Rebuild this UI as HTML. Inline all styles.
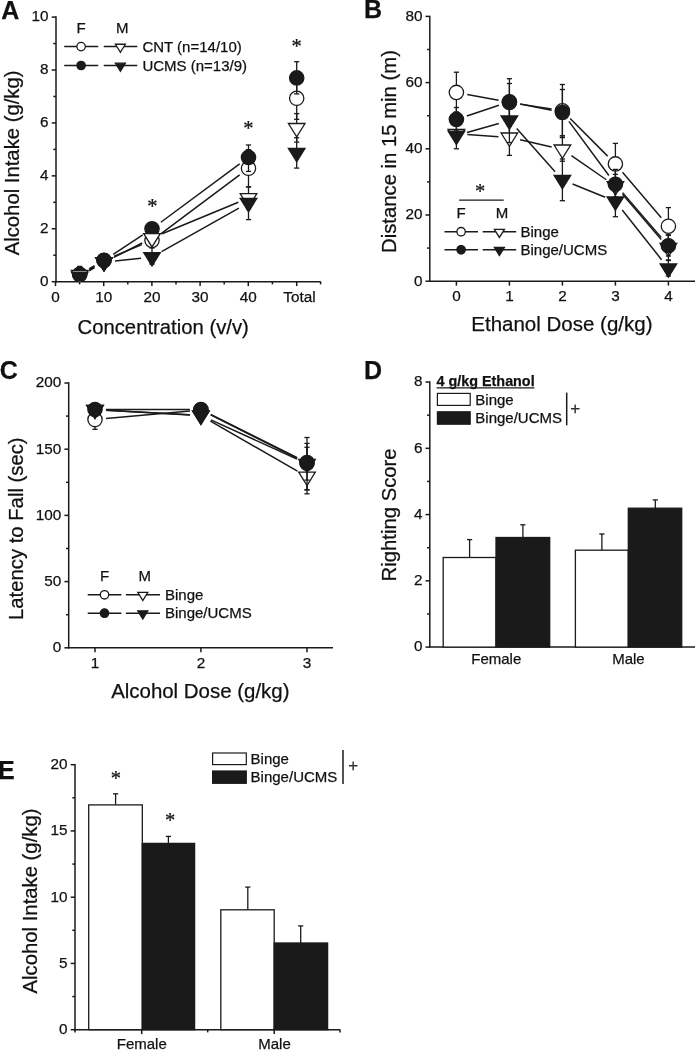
<!DOCTYPE html>
<html><head><meta charset="utf-8"><title>Figure</title>
<style>
html,body{margin:0;padding:0;background:#fff;}
body{width:695px;height:1050px;overflow:hidden;}
svg{display:block;font-family:"Liberation Sans",Arial,Helvetica,sans-serif;fill:#111;}
text{stroke:#111;stroke-width:0.25px;}
</style></head><body>
<svg width="695" height="1050" viewBox="0 0 695 1050">
<rect width="695" height="1050" fill="#fff"/>
<text x="1.2" y="18.6" font-size="25" text-anchor="start" font-weight="bold" >A</text>
<line x1="56" y1="16.35" x2="56" y2="282.45" stroke="#1a1a1a" stroke-width="1.5" />
<line x1="51.7" y1="281.7" x2="56" y2="281.7" stroke="#1a1a1a" stroke-width="1.5" />
<text x="48.6" y="286" font-size="15.3" text-anchor="end" >0</text>
<line x1="51.7" y1="228.78" x2="56" y2="228.78" stroke="#1a1a1a" stroke-width="1.5" />
<text x="48.6" y="233.08" font-size="15.3" text-anchor="end" >2</text>
<line x1="51.7" y1="175.86" x2="56" y2="175.86" stroke="#1a1a1a" stroke-width="1.5" />
<text x="48.6" y="180.16" font-size="15.3" text-anchor="end" >4</text>
<line x1="51.7" y1="122.94" x2="56" y2="122.94" stroke="#1a1a1a" stroke-width="1.5" />
<text x="48.6" y="127.24" font-size="15.3" text-anchor="end" >6</text>
<line x1="51.7" y1="70.02" x2="56" y2="70.02" stroke="#1a1a1a" stroke-width="1.5" />
<text x="48.6" y="74.32" font-size="15.3" text-anchor="end" >8</text>
<line x1="51.7" y1="17.1" x2="56" y2="17.1" stroke="#1a1a1a" stroke-width="1.5" />
<text x="48.6" y="21.4" font-size="15.3" text-anchor="end" >10</text>
<line x1="53.3" y1="255.24" x2="56" y2="255.24" stroke="#1a1a1a" stroke-width="1.5" />
<line x1="53.3" y1="202.32" x2="56" y2="202.32" stroke="#1a1a1a" stroke-width="1.5" />
<line x1="53.3" y1="149.4" x2="56" y2="149.4" stroke="#1a1a1a" stroke-width="1.5" />
<line x1="53.3" y1="96.48" x2="56" y2="96.48" stroke="#1a1a1a" stroke-width="1.5" />
<line x1="53.3" y1="43.56" x2="56" y2="43.56" stroke="#1a1a1a" stroke-width="1.5" />
<line x1="55.25" y1="281.7" x2="320.8" y2="281.7" stroke="#1a1a1a" stroke-width="1.5" />
<line x1="55.5" y1="281.7" x2="55.5" y2="286.1" stroke="#1a1a1a" stroke-width="1.5" />
<text x="55.5" y="301.5" font-size="15.3" text-anchor="middle" >0</text>
<line x1="103.7" y1="281.7" x2="103.7" y2="286.1" stroke="#1a1a1a" stroke-width="1.5" />
<text x="103.7" y="301.5" font-size="15.3" text-anchor="middle" >10</text>
<line x1="151.9" y1="281.7" x2="151.9" y2="286.1" stroke="#1a1a1a" stroke-width="1.5" />
<text x="151.9" y="301.5" font-size="15.3" text-anchor="middle" >20</text>
<line x1="200.1" y1="281.7" x2="200.1" y2="286.1" stroke="#1a1a1a" stroke-width="1.5" />
<text x="200.1" y="301.5" font-size="15.3" text-anchor="middle" >30</text>
<line x1="248.3" y1="281.7" x2="248.3" y2="286.1" stroke="#1a1a1a" stroke-width="1.5" />
<text x="248.3" y="301.5" font-size="15.3" text-anchor="middle" >40</text>
<line x1="296.7" y1="281.7" x2="296.7" y2="286.1" stroke="#1a1a1a" stroke-width="1.5" />
<text x="299.4" y="301.5" font-size="15.3" text-anchor="middle" >Total</text>
<line x1="79.6" y1="281.7" x2="79.6" y2="284.4" stroke="#1a1a1a" stroke-width="1.5" />
<line x1="127.8" y1="281.7" x2="127.8" y2="284.4" stroke="#1a1a1a" stroke-width="1.5" />
<line x1="176" y1="281.7" x2="176" y2="284.4" stroke="#1a1a1a" stroke-width="1.5" />
<line x1="224.2" y1="281.7" x2="224.2" y2="284.4" stroke="#1a1a1a" stroke-width="1.5" />
<line x1="272.4" y1="281.7" x2="272.4" y2="284.4" stroke="#1a1a1a" stroke-width="1.5" />
<line x1="320.6" y1="281.7" x2="320.6" y2="284.4" stroke="#1a1a1a" stroke-width="1.5" />
<text transform="translate(18.7 162.9) rotate(-90)" font-size="20.3" text-anchor="middle">Alcohol Intake (g/kg)</text>
<text x="163.2" y="333.8" font-size="20.3" text-anchor="middle" >Concentration (v/v)</text>
<clipPath id="ca"><rect x="56" y="0" width="300" height="281.2"/></clipPath><g clip-path="url(#ca)">
<line x1="89.25" y1="268.94" x2="94.45" y2="265.96" stroke="#1a1a1a" stroke-width="1.5" />
<line x1="114.15" y1="256.25" x2="141.85" y2="244.65" stroke="#1a1a1a" stroke-width="1.5" />
<line x1="160.81" y1="233.82" x2="239.69" y2="174.88" stroke="#1a1a1a" stroke-width="1.5" />
<line x1="79.7" y1="266.3" x2="79.7" y2="274" stroke="#1a1a1a" stroke-width="1.3" />
<line x1="77.1" y1="266.3" x2="82.3" y2="266.3" stroke="#1a1a1a" stroke-width="1.3" />
<line x1="77.1" y1="274" x2="82.3" y2="274" stroke="#1a1a1a" stroke-width="1.3" />
<line x1="248.5" y1="149.7" x2="248.5" y2="186.9" stroke="#1a1a1a" stroke-width="1.3" />
<line x1="245.9" y1="149.7" x2="251.1" y2="149.7" stroke="#1a1a1a" stroke-width="1.3" />
<line x1="245.9" y1="186.9" x2="251.1" y2="186.9" stroke="#1a1a1a" stroke-width="1.3" />
<line x1="296.7" y1="77.3" x2="296.7" y2="119.3" stroke="#1a1a1a" stroke-width="1.3" />
<line x1="294.1" y1="77.3" x2="299.3" y2="77.3" stroke="#1a1a1a" stroke-width="1.3" />
<line x1="294.1" y1="119.3" x2="299.3" y2="119.3" stroke="#1a1a1a" stroke-width="1.3" />
<circle cx="79.7" cy="274.4" r="7.15" fill="#fff" stroke="#1a1a1a" stroke-width="1.3"/>
<circle cx="104" cy="260.5" r="7.15" fill="#fff" stroke="#1a1a1a" stroke-width="1.3"/>
<circle cx="152" cy="240.4" r="7.15" fill="#fff" stroke="#1a1a1a" stroke-width="1.3"/>
<circle cx="248.5" cy="168.3" r="7.15" fill="#fff" stroke="#1a1a1a" stroke-width="1.3"/>
<circle cx="296.7" cy="98.3" r="7.15" fill="#fff" stroke="#1a1a1a" stroke-width="1.3"/>
<line x1="89.18" y1="269.02" x2="94.52" y2="265.88" stroke="#1a1a1a" stroke-width="1.5" />
<line x1="113.2" y1="254.26" x2="142.8" y2="234.84" stroke="#1a1a1a" stroke-width="1.5" />
<line x1="160.84" y1="222.26" x2="239.66" y2="163.94" stroke="#1a1a1a" stroke-width="1.5" />
<line x1="248.5" y1="145" x2="248.5" y2="171.4" stroke="#1a1a1a" stroke-width="1.3" />
<line x1="245.9" y1="145" x2="251.1" y2="145" stroke="#1a1a1a" stroke-width="1.3" />
<line x1="245.9" y1="171.4" x2="251.1" y2="171.4" stroke="#1a1a1a" stroke-width="1.3" />
<line x1="296.7" y1="61.7" x2="296.7" y2="93.9" stroke="#1a1a1a" stroke-width="1.3" />
<line x1="294.1" y1="61.7" x2="299.3" y2="61.7" stroke="#1a1a1a" stroke-width="1.3" />
<line x1="294.1" y1="93.9" x2="299.3" y2="93.9" stroke="#1a1a1a" stroke-width="1.3" />
<circle cx="79.7" cy="274.6" r="7.15" fill="#1a1a1a" stroke="#1a1a1a" stroke-width="1.3"/>
<circle cx="104" cy="260.3" r="7.15" fill="#1a1a1a" stroke="#1a1a1a" stroke-width="1.3"/>
<circle cx="152" cy="228.8" r="7.15" fill="#1a1a1a" stroke="#1a1a1a" stroke-width="1.3"/>
<circle cx="248.5" cy="157.4" r="7.15" fill="#1a1a1a" stroke="#1a1a1a" stroke-width="1.3"/>
<circle cx="296.7" cy="77.9" r="7.15" fill="#1a1a1a" stroke="#1a1a1a" stroke-width="1.3"/>
<line x1="89.51" y1="269.73" x2="94.19" y2="267.37" stroke="#1a1a1a" stroke-width="1.5" />
<line x1="113.81" y1="257.42" x2="142.19" y2="242.98" stroke="#1a1a1a" stroke-width="1.5" />
<line x1="162.17" y1="233.8" x2="238.33" y2="202.3" stroke="#1a1a1a" stroke-width="1.5" />
<line x1="248.5" y1="186.9" x2="248.5" y2="209" stroke="#1a1a1a" stroke-width="1.3" />
<line x1="245.9" y1="186.9" x2="251.1" y2="186.9" stroke="#1a1a1a" stroke-width="1.3" />
<line x1="245.9" y1="209" x2="251.1" y2="209" stroke="#1a1a1a" stroke-width="1.3" />
<line x1="296.7" y1="113.6" x2="296.7" y2="142.1" stroke="#1a1a1a" stroke-width="1.3" />
<line x1="294.1" y1="113.6" x2="299.3" y2="113.6" stroke="#1a1a1a" stroke-width="1.3" />
<line x1="294.1" y1="142.1" x2="299.3" y2="142.1" stroke="#1a1a1a" stroke-width="1.3" />
<path d="M71.4 270.3H88L79.7 283.6Z" fill="#fff" stroke="#1a1a1a" stroke-width="1.3" stroke-linejoin="miter"/>
<path d="M95.7 258H112.3L104 271.3Z" fill="#fff" stroke="#1a1a1a" stroke-width="1.3" stroke-linejoin="miter"/>
<path d="M143.7 233.6H160.3L152 246.9Z" fill="#fff" stroke="#1a1a1a" stroke-width="1.3" stroke-linejoin="miter"/>
<path d="M240.2 193.7H256.8L248.5 207Z" fill="#fff" stroke="#1a1a1a" stroke-width="1.3" stroke-linejoin="miter"/>
<path d="M288.4 123.5H305L296.7 136.8Z" fill="#fff" stroke="#1a1a1a" stroke-width="1.3" stroke-linejoin="miter"/>
<line x1="89.16" y1="270.89" x2="94.54" y2="267.71" stroke="#1a1a1a" stroke-width="1.5" />
<line x1="114.94" y1="260.94" x2="141.06" y2="258.16" stroke="#1a1a1a" stroke-width="1.5" />
<line x1="161.59" y1="251.61" x2="238.91" y2="208.19" stroke="#1a1a1a" stroke-width="1.5" />
<line x1="152" y1="248" x2="152" y2="264" stroke="#1a1a1a" stroke-width="1.3" />
<line x1="149.4" y1="248" x2="154.6" y2="248" stroke="#1a1a1a" stroke-width="1.3" />
<line x1="149.4" y1="264" x2="154.6" y2="264" stroke="#1a1a1a" stroke-width="1.3" />
<line x1="248.5" y1="200" x2="248.5" y2="219.6" stroke="#1a1a1a" stroke-width="1.3" />
<line x1="245.9" y1="200" x2="251.1" y2="200" stroke="#1a1a1a" stroke-width="1.3" />
<line x1="245.9" y1="219.6" x2="251.1" y2="219.6" stroke="#1a1a1a" stroke-width="1.3" />
<line x1="296.7" y1="137.7" x2="296.7" y2="168.1" stroke="#1a1a1a" stroke-width="1.3" />
<line x1="294.1" y1="137.7" x2="299.3" y2="137.7" stroke="#1a1a1a" stroke-width="1.3" />
<line x1="294.1" y1="168.1" x2="299.3" y2="168.1" stroke="#1a1a1a" stroke-width="1.3" />
<path d="M71.4 272.1H88L79.7 285.4Z" fill="#1a1a1a" stroke="#1a1a1a" stroke-width="1.3" stroke-linejoin="miter"/>
<path d="M95.7 257.7H112.3L104 271Z" fill="#1a1a1a" stroke="#1a1a1a" stroke-width="1.3" stroke-linejoin="miter"/>
<path d="M143.7 252.6H160.3L152 265.9Z" fill="#1a1a1a" stroke="#1a1a1a" stroke-width="1.3" stroke-linejoin="miter"/>
<path d="M240.2 198.4H256.8L248.5 211.7Z" fill="#1a1a1a" stroke="#1a1a1a" stroke-width="1.3" stroke-linejoin="miter"/>
<path d="M288.4 148.5H305L296.7 161.8Z" fill="#1a1a1a" stroke="#1a1a1a" stroke-width="1.3" stroke-linejoin="miter"/>
</g>
<text x="152.4" y="213.22" font-size="20.5" text-anchor="middle" font-family="Liberation Serif, serif" stroke="#111" stroke-width="0.35">*</text>
<text x="248.3" y="135.02" font-size="20.5" text-anchor="middle" font-family="Liberation Serif, serif" stroke="#111" stroke-width="0.35">*</text>
<text x="296.7" y="52.72" font-size="20.5" text-anchor="middle" font-family="Liberation Serif, serif" stroke="#111" stroke-width="0.35">*</text>
<text x="81.1" y="32.7" font-size="15" text-anchor="middle" >F</text>
<text x="122.3" y="32.7" font-size="15" text-anchor="middle" >M</text>
<line x1="64.2" y1="46.6" x2="98.2" y2="46.6" stroke="#1a1a1a" stroke-width="1.5" />
<circle cx="81.1" cy="46.6" r="4.2" fill="#fff" stroke="#1a1a1a" stroke-width="1.3"/>
<line x1="103.8" y1="46.6" x2="137.3" y2="46.6" stroke="#1a1a1a" stroke-width="1.5" />
<path d="M115.4 44.23H125.4L120.4 52.33Z" fill="#fff" stroke="#1a1a1a" stroke-width="1.3" stroke-linejoin="miter"/>
<line x1="64.2" y1="65.5" x2="98.2" y2="65.5" stroke="#1a1a1a" stroke-width="1.5" />
<circle cx="81.1" cy="65.5" r="4.2" fill="#1a1a1a" stroke="#1a1a1a" stroke-width="1.3"/>
<line x1="103.8" y1="65.5" x2="137.3" y2="65.5" stroke="#1a1a1a" stroke-width="1.5" />
<path d="M115.4 63.13H125.4L120.4 71.23Z" fill="#1a1a1a" stroke="#1a1a1a" stroke-width="1.3" stroke-linejoin="miter"/>
<text x="142.4" y="52.2" font-size="15" text-anchor="start" >CNT (n=14/10)</text>
<text x="142.4" y="71" font-size="15" text-anchor="start" >UCMS (n=13/9)</text>
<text x="364" y="17.8" font-size="25" text-anchor="start" font-weight="bold" >B</text>
<line x1="429.8" y1="15.65" x2="429.8" y2="281.95" stroke="#1a1a1a" stroke-width="1.5" />
<line x1="425.5" y1="281.2" x2="429.8" y2="281.2" stroke="#1a1a1a" stroke-width="1.5" />
<text x="422.4" y="285.5" font-size="15.3" text-anchor="end" >0</text>
<line x1="425.5" y1="215" x2="429.8" y2="215" stroke="#1a1a1a" stroke-width="1.5" />
<text x="422.4" y="219.3" font-size="15.3" text-anchor="end" >20</text>
<line x1="425.5" y1="148.8" x2="429.8" y2="148.8" stroke="#1a1a1a" stroke-width="1.5" />
<text x="422.4" y="153.1" font-size="15.3" text-anchor="end" >40</text>
<line x1="425.5" y1="82.6" x2="429.8" y2="82.6" stroke="#1a1a1a" stroke-width="1.5" />
<text x="422.4" y="86.9" font-size="15.3" text-anchor="end" >60</text>
<line x1="425.5" y1="16.4" x2="429.8" y2="16.4" stroke="#1a1a1a" stroke-width="1.5" />
<text x="422.4" y="20.7" font-size="15.3" text-anchor="end" >80</text>
<line x1="427.1" y1="248.1" x2="429.8" y2="248.1" stroke="#1a1a1a" stroke-width="1.5" />
<line x1="427.1" y1="181.9" x2="429.8" y2="181.9" stroke="#1a1a1a" stroke-width="1.5" />
<line x1="427.1" y1="115.7" x2="429.8" y2="115.7" stroke="#1a1a1a" stroke-width="1.5" />
<line x1="427.1" y1="49.5" x2="429.8" y2="49.5" stroke="#1a1a1a" stroke-width="1.5" />
<line x1="429.05" y1="281.2" x2="695" y2="281.2" stroke="#1a1a1a" stroke-width="1.5" />
<line x1="456.4" y1="281.2" x2="456.4" y2="285.6" stroke="#1a1a1a" stroke-width="1.5" />
<text x="456.4" y="300.8" font-size="15.3" text-anchor="middle" >0</text>
<line x1="509.4" y1="281.2" x2="509.4" y2="285.6" stroke="#1a1a1a" stroke-width="1.5" />
<text x="509.4" y="300.8" font-size="15.3" text-anchor="middle" >1</text>
<line x1="562.4" y1="281.2" x2="562.4" y2="285.6" stroke="#1a1a1a" stroke-width="1.5" />
<text x="562.4" y="300.8" font-size="15.3" text-anchor="middle" >2</text>
<line x1="615.4" y1="281.2" x2="615.4" y2="285.6" stroke="#1a1a1a" stroke-width="1.5" />
<text x="615.4" y="300.8" font-size="15.3" text-anchor="middle" >3</text>
<line x1="668.4" y1="281.2" x2="668.4" y2="285.6" stroke="#1a1a1a" stroke-width="1.5" />
<text x="668.4" y="300.8" font-size="15.3" text-anchor="middle" >4</text>
<text transform="translate(395.7 151.5) rotate(-90)" font-size="20.3" text-anchor="middle">Distance in 15 min (m)</text>
<text x="561.9" y="330.6" font-size="20.5" text-anchor="middle" >Ethanol Dose (g/kg)</text>
<line x1="467.21" y1="94.44" x2="498.59" y2="100.36" stroke="#1a1a1a" stroke-width="1.5" />
<line x1="520.26" y1="104.12" x2="551.54" y2="109.08" stroke="#1a1a1a" stroke-width="1.5" />
<line x1="570.17" y1="118.59" x2="607.63" y2="156.11" stroke="#1a1a1a" stroke-width="1.5" />
<line x1="622.53" y1="172.28" x2="661.27" y2="217.82" stroke="#1a1a1a" stroke-width="1.5" />
<line x1="456.4" y1="72.2" x2="456.4" y2="112" stroke="#1a1a1a" stroke-width="1.3" />
<line x1="453.8" y1="72.2" x2="459" y2="72.2" stroke="#1a1a1a" stroke-width="1.3" />
<line x1="453.8" y1="112" x2="459" y2="112" stroke="#1a1a1a" stroke-width="1.3" />
<line x1="509.4" y1="78.7" x2="509.4" y2="126" stroke="#1a1a1a" stroke-width="1.3" />
<line x1="506.8" y1="78.7" x2="512" y2="78.7" stroke="#1a1a1a" stroke-width="1.3" />
<line x1="506.8" y1="126" x2="512" y2="126" stroke="#1a1a1a" stroke-width="1.3" />
<line x1="562.4" y1="84.5" x2="562.4" y2="137.1" stroke="#1a1a1a" stroke-width="1.3" />
<line x1="559.8" y1="84.5" x2="565" y2="84.5" stroke="#1a1a1a" stroke-width="1.3" />
<line x1="559.8" y1="137.1" x2="565" y2="137.1" stroke="#1a1a1a" stroke-width="1.3" />
<line x1="615.4" y1="143.4" x2="615.4" y2="184" stroke="#1a1a1a" stroke-width="1.3" />
<line x1="612.8" y1="143.4" x2="618" y2="143.4" stroke="#1a1a1a" stroke-width="1.3" />
<line x1="612.8" y1="184" x2="618" y2="184" stroke="#1a1a1a" stroke-width="1.3" />
<line x1="668.4" y1="207.6" x2="668.4" y2="244" stroke="#1a1a1a" stroke-width="1.3" />
<line x1="665.8" y1="207.6" x2="671" y2="207.6" stroke="#1a1a1a" stroke-width="1.3" />
<line x1="665.8" y1="244" x2="671" y2="244" stroke="#1a1a1a" stroke-width="1.3" />
<circle cx="456.4" cy="92.4" r="7.15" fill="#fff" stroke="#1a1a1a" stroke-width="1.3"/>
<circle cx="509.4" cy="102.4" r="7.15" fill="#fff" stroke="#1a1a1a" stroke-width="1.3"/>
<circle cx="562.4" cy="110.8" r="7.15" fill="#fff" stroke="#1a1a1a" stroke-width="1.3"/>
<circle cx="615.4" cy="163.9" r="7.15" fill="#fff" stroke="#1a1a1a" stroke-width="1.3"/>
<circle cx="668.4" cy="226.2" r="7.15" fill="#fff" stroke="#1a1a1a" stroke-width="1.3"/>
<line x1="467.37" y1="134.55" x2="498.43" y2="136.65" stroke="#1a1a1a" stroke-width="1.5" />
<line x1="520.13" y1="139.83" x2="551.67" y2="146.97" stroke="#1a1a1a" stroke-width="1.5" />
<line x1="571.45" y1="155.65" x2="606.35" y2="179.75" stroke="#1a1a1a" stroke-width="1.5" />
<line x1="622.55" y1="194.36" x2="661.25" y2="239.54" stroke="#1a1a1a" stroke-width="1.5" />
<line x1="509.4" y1="125" x2="509.4" y2="155.4" stroke="#1a1a1a" stroke-width="1.3" />
<line x1="506.8" y1="125" x2="512" y2="125" stroke="#1a1a1a" stroke-width="1.3" />
<line x1="506.8" y1="155.4" x2="512" y2="155.4" stroke="#1a1a1a" stroke-width="1.3" />
<line x1="562.4" y1="137.6" x2="562.4" y2="161.2" stroke="#1a1a1a" stroke-width="1.3" />
<line x1="559.8" y1="137.6" x2="565" y2="137.6" stroke="#1a1a1a" stroke-width="1.3" />
<line x1="559.8" y1="161.2" x2="565" y2="161.2" stroke="#1a1a1a" stroke-width="1.3" />
<line x1="615.4" y1="174.3" x2="615.4" y2="197" stroke="#1a1a1a" stroke-width="1.3" />
<line x1="612.8" y1="174.3" x2="618" y2="174.3" stroke="#1a1a1a" stroke-width="1.3" />
<line x1="612.8" y1="197" x2="618" y2="197" stroke="#1a1a1a" stroke-width="1.3" />
<line x1="668.4" y1="235.3" x2="668.4" y2="260.5" stroke="#1a1a1a" stroke-width="1.3" />
<line x1="665.8" y1="235.3" x2="671" y2="235.3" stroke="#1a1a1a" stroke-width="1.3" />
<line x1="665.8" y1="260.5" x2="671" y2="260.5" stroke="#1a1a1a" stroke-width="1.3" />
<path d="M448.1 129.4H464.7L456.4 142.7Z" fill="#fff" stroke="#1a1a1a" stroke-width="1.3" stroke-linejoin="miter"/>
<path d="M501.1 133H517.7L509.4 146.3Z" fill="#fff" stroke="#1a1a1a" stroke-width="1.3" stroke-linejoin="miter"/>
<path d="M554.1 145H570.7L562.4 158.3Z" fill="#fff" stroke="#1a1a1a" stroke-width="1.3" stroke-linejoin="miter"/>
<path d="M607.1 181.6H623.7L615.4 194.9Z" fill="#fff" stroke="#1a1a1a" stroke-width="1.3" stroke-linejoin="miter"/>
<path d="M660.1 243.5H676.7L668.4 256.8Z" fill="#fff" stroke="#1a1a1a" stroke-width="1.3" stroke-linejoin="miter"/>
<line x1="466.83" y1="115.92" x2="498.97" y2="105.18" stroke="#1a1a1a" stroke-width="1.5" />
<line x1="520.18" y1="103.9" x2="551.62" y2="110.3" stroke="#1a1a1a" stroke-width="1.5" />
<line x1="568.93" y1="121.35" x2="608.87" y2="175.45" stroke="#1a1a1a" stroke-width="1.5" />
<line x1="622.59" y1="192.63" x2="661.21" y2="237.37" stroke="#1a1a1a" stroke-width="1.5" />
<line x1="456.4" y1="107.5" x2="456.4" y2="131" stroke="#1a1a1a" stroke-width="1.3" />
<line x1="453.8" y1="107.5" x2="459" y2="107.5" stroke="#1a1a1a" stroke-width="1.3" />
<line x1="453.8" y1="131" x2="459" y2="131" stroke="#1a1a1a" stroke-width="1.3" />
<line x1="509.4" y1="83.5" x2="509.4" y2="120" stroke="#1a1a1a" stroke-width="1.3" />
<line x1="506.8" y1="83.5" x2="512" y2="83.5" stroke="#1a1a1a" stroke-width="1.3" />
<line x1="506.8" y1="120" x2="512" y2="120" stroke="#1a1a1a" stroke-width="1.3" />
<line x1="562.4" y1="89.5" x2="562.4" y2="135.7" stroke="#1a1a1a" stroke-width="1.3" />
<line x1="559.8" y1="89.5" x2="565" y2="89.5" stroke="#1a1a1a" stroke-width="1.3" />
<line x1="559.8" y1="135.7" x2="565" y2="135.7" stroke="#1a1a1a" stroke-width="1.3" />
<line x1="615.4" y1="169.4" x2="615.4" y2="199" stroke="#1a1a1a" stroke-width="1.3" />
<line x1="612.8" y1="169.4" x2="618" y2="169.4" stroke="#1a1a1a" stroke-width="1.3" />
<line x1="612.8" y1="199" x2="618" y2="199" stroke="#1a1a1a" stroke-width="1.3" />
<line x1="668.4" y1="234.8" x2="668.4" y2="256" stroke="#1a1a1a" stroke-width="1.3" />
<line x1="665.8" y1="234.8" x2="671" y2="234.8" stroke="#1a1a1a" stroke-width="1.3" />
<line x1="665.8" y1="256" x2="671" y2="256" stroke="#1a1a1a" stroke-width="1.3" />
<circle cx="456.4" cy="119.4" r="7.15" fill="#1a1a1a" stroke="#1a1a1a" stroke-width="1.3"/>
<circle cx="509.4" cy="101.7" r="7.15" fill="#1a1a1a" stroke="#1a1a1a" stroke-width="1.3"/>
<circle cx="562.4" cy="112.5" r="7.15" fill="#1a1a1a" stroke="#1a1a1a" stroke-width="1.3"/>
<circle cx="615.4" cy="184.3" r="7.15" fill="#1a1a1a" stroke="#1a1a1a" stroke-width="1.3"/>
<circle cx="668.4" cy="245.7" r="7.15" fill="#1a1a1a" stroke="#1a1a1a" stroke-width="1.3"/>
<line x1="466.98" y1="132.49" x2="498.82" y2="123.41" stroke="#1a1a1a" stroke-width="1.5" />
<line x1="516.72" y1="128.61" x2="555.08" y2="171.69" stroke="#1a1a1a" stroke-width="1.5" />
<line x1="572.59" y1="184.03" x2="605.21" y2="197.27" stroke="#1a1a1a" stroke-width="1.5" />
<line x1="622.23" y1="210.02" x2="661.57" y2="259.68" stroke="#1a1a1a" stroke-width="1.5" />
<line x1="456.4" y1="125" x2="456.4" y2="148.8" stroke="#1a1a1a" stroke-width="1.3" />
<line x1="453.8" y1="125" x2="459" y2="125" stroke="#1a1a1a" stroke-width="1.3" />
<line x1="453.8" y1="148.8" x2="459" y2="148.8" stroke="#1a1a1a" stroke-width="1.3" />
<line x1="509.4" y1="100" x2="509.4" y2="142.6" stroke="#1a1a1a" stroke-width="1.3" />
<line x1="506.8" y1="100" x2="512" y2="100" stroke="#1a1a1a" stroke-width="1.3" />
<line x1="506.8" y1="142.6" x2="512" y2="142.6" stroke="#1a1a1a" stroke-width="1.3" />
<line x1="562.4" y1="159" x2="562.4" y2="200.7" stroke="#1a1a1a" stroke-width="1.3" />
<line x1="559.8" y1="159" x2="565" y2="159" stroke="#1a1a1a" stroke-width="1.3" />
<line x1="559.8" y1="200.7" x2="565" y2="200.7" stroke="#1a1a1a" stroke-width="1.3" />
<line x1="615.4" y1="186" x2="615.4" y2="216.7" stroke="#1a1a1a" stroke-width="1.3" />
<line x1="612.8" y1="186" x2="618" y2="186" stroke="#1a1a1a" stroke-width="1.3" />
<line x1="612.8" y1="216.7" x2="618" y2="216.7" stroke="#1a1a1a" stroke-width="1.3" />
<line x1="668.4" y1="260" x2="668.4" y2="276" stroke="#1a1a1a" stroke-width="1.3" />
<line x1="665.8" y1="260" x2="671" y2="260" stroke="#1a1a1a" stroke-width="1.3" />
<line x1="665.8" y1="276" x2="671" y2="276" stroke="#1a1a1a" stroke-width="1.3" />
<path d="M448.1 131.1H464.7L456.4 144.4Z" fill="#1a1a1a" stroke="#1a1a1a" stroke-width="1.3" stroke-linejoin="miter"/>
<path d="M501.1 116H517.7L509.4 129.3Z" fill="#1a1a1a" stroke="#1a1a1a" stroke-width="1.3" stroke-linejoin="miter"/>
<path d="M554.1 175.5H570.7L562.4 188.8Z" fill="#1a1a1a" stroke="#1a1a1a" stroke-width="1.3" stroke-linejoin="miter"/>
<path d="M607.1 197H623.7L615.4 210.3Z" fill="#1a1a1a" stroke="#1a1a1a" stroke-width="1.3" stroke-linejoin="miter"/>
<path d="M660.1 263.9H676.7L668.4 277.2Z" fill="#1a1a1a" stroke="#1a1a1a" stroke-width="1.3" stroke-linejoin="miter"/>
<text x="480.2" y="198.02" font-size="20.5" text-anchor="middle" font-family="Liberation Serif, serif" stroke="#111" stroke-width="0.35">*</text>
<line x1="459.1" y1="200.2" x2="503.7" y2="200.2" stroke="#1a1a1a" stroke-width="1.3" />
<text x="461.1" y="217.8" font-size="15" text-anchor="middle" >F</text>
<text x="501.9" y="217.8" font-size="15" text-anchor="middle" >M</text>
<line x1="444.5" y1="231.7" x2="478" y2="231.7" stroke="#1a1a1a" stroke-width="1.5" />
<circle cx="461.1" cy="231.7" r="4.2" fill="#fff" stroke="#1a1a1a" stroke-width="1.3"/>
<line x1="482.7" y1="231.7" x2="516.2" y2="231.7" stroke="#1a1a1a" stroke-width="1.5" />
<path d="M494.4 229.33H504.4L499.4 237.43Z" fill="#fff" stroke="#1a1a1a" stroke-width="1.3" stroke-linejoin="miter"/>
<line x1="444.5" y1="249.8" x2="478" y2="249.8" stroke="#1a1a1a" stroke-width="1.5" />
<circle cx="461.1" cy="249.8" r="4.2" fill="#1a1a1a" stroke="#1a1a1a" stroke-width="1.3"/>
<line x1="482.7" y1="249.8" x2="516.2" y2="249.8" stroke="#1a1a1a" stroke-width="1.5" />
<path d="M494.4 247.43H504.4L499.4 255.53Z" fill="#1a1a1a" stroke="#1a1a1a" stroke-width="1.3" stroke-linejoin="miter"/>
<text x="520.5" y="236.6" font-size="15" text-anchor="start" >Binge</text>
<text x="520.5" y="254.9" font-size="15" text-anchor="start" >Binge/UCMS</text>
<text x="-0.3" y="378.8" font-size="25" text-anchor="start" font-weight="bold" >C</text>
<line x1="68.7" y1="382.25" x2="68.7" y2="648.55" stroke="#1a1a1a" stroke-width="1.5" />
<line x1="64.4" y1="647.8" x2="68.7" y2="647.8" stroke="#1a1a1a" stroke-width="1.5" />
<text x="61.3" y="652.1" font-size="15.3" text-anchor="end" >0</text>
<line x1="64.4" y1="581.6" x2="68.7" y2="581.6" stroke="#1a1a1a" stroke-width="1.5" />
<text x="61.3" y="585.9" font-size="15.3" text-anchor="end" >50</text>
<line x1="64.4" y1="515.4" x2="68.7" y2="515.4" stroke="#1a1a1a" stroke-width="1.5" />
<text x="61.3" y="519.7" font-size="15.3" text-anchor="end" >100</text>
<line x1="64.4" y1="449.2" x2="68.7" y2="449.2" stroke="#1a1a1a" stroke-width="1.5" />
<text x="61.3" y="453.5" font-size="15.3" text-anchor="end" >150</text>
<line x1="64.4" y1="383" x2="68.7" y2="383" stroke="#1a1a1a" stroke-width="1.5" />
<text x="61.3" y="387.3" font-size="15.3" text-anchor="end" >200</text>
<line x1="66" y1="614.7" x2="68.7" y2="614.7" stroke="#1a1a1a" stroke-width="1.5" />
<line x1="66" y1="548.5" x2="68.7" y2="548.5" stroke="#1a1a1a" stroke-width="1.5" />
<line x1="66" y1="482.3" x2="68.7" y2="482.3" stroke="#1a1a1a" stroke-width="1.5" />
<line x1="66" y1="416.1" x2="68.7" y2="416.1" stroke="#1a1a1a" stroke-width="1.5" />
<line x1="67.95" y1="647.8" x2="333" y2="647.8" stroke="#1a1a1a" stroke-width="1.5" />
<line x1="95" y1="647.8" x2="95" y2="652.2" stroke="#1a1a1a" stroke-width="1.5" />
<text x="95" y="668" font-size="15.3" text-anchor="middle" >1</text>
<line x1="200.9" y1="647.8" x2="200.9" y2="652.2" stroke="#1a1a1a" stroke-width="1.5" />
<text x="200.9" y="668" font-size="15.3" text-anchor="middle" >2</text>
<line x1="307" y1="647.8" x2="307" y2="652.2" stroke="#1a1a1a" stroke-width="1.5" />
<text x="307" y="668" font-size="15.3" text-anchor="middle" >3</text>
<text transform="translate(23 528.7) rotate(-90)" font-size="20.3" text-anchor="middle">Latency to Fall (sec)</text>
<text x="200.3" y="697.8" font-size="20.45" text-anchor="middle" >Alcohol Dose (g/kg)</text>
<line x1="105.96" y1="418.61" x2="189.94" y2="410.99" stroke="#1a1a1a" stroke-width="1.5" />
<line x1="210.73" y1="414.93" x2="297.17" y2="458.27" stroke="#1a1a1a" stroke-width="1.5" />
<line x1="95" y1="412" x2="95" y2="429.3" stroke="#1a1a1a" stroke-width="1.3" />
<line x1="92.4" y1="412" x2="97.6" y2="412" stroke="#1a1a1a" stroke-width="1.3" />
<line x1="92.4" y1="429.3" x2="97.6" y2="429.3" stroke="#1a1a1a" stroke-width="1.3" />
<line x1="307" y1="443.4" x2="307" y2="489.8" stroke="#1a1a1a" stroke-width="1.3" />
<line x1="304.4" y1="443.4" x2="309.6" y2="443.4" stroke="#1a1a1a" stroke-width="1.3" />
<line x1="304.4" y1="489.8" x2="309.6" y2="489.8" stroke="#1a1a1a" stroke-width="1.3" />
<circle cx="95" cy="419.6" r="7.15" fill="#fff" stroke="#1a1a1a" stroke-width="1.3"/>
<circle cx="200.9" cy="410" r="7.15" fill="#fff" stroke="#1a1a1a" stroke-width="1.3"/>
<circle cx="307" cy="463.2" r="7.15" fill="#fff" stroke="#1a1a1a" stroke-width="1.3"/>
<line x1="105.98" y1="410.31" x2="189.92" y2="414.99" stroke="#1a1a1a" stroke-width="1.5" />
<line x1="210.44" y1="421.08" x2="297.46" y2="471.12" stroke="#1a1a1a" stroke-width="1.5" />
<line x1="307" y1="459.4" x2="307" y2="493.8" stroke="#1a1a1a" stroke-width="1.3" />
<line x1="304.4" y1="459.4" x2="309.6" y2="459.4" stroke="#1a1a1a" stroke-width="1.3" />
<line x1="304.4" y1="493.8" x2="309.6" y2="493.8" stroke="#1a1a1a" stroke-width="1.3" />
<path d="M86.7 405.3H103.3L95 418.6Z" fill="#fff" stroke="#1a1a1a" stroke-width="1.3" stroke-linejoin="miter"/>
<path d="M192.6 411.2H209.2L200.9 424.5Z" fill="#fff" stroke="#1a1a1a" stroke-width="1.3" stroke-linejoin="miter"/>
<path d="M298.7 472.2H315.3L307 485.5Z" fill="#fff" stroke="#1a1a1a" stroke-width="1.3" stroke-linejoin="miter"/>
<line x1="106" y1="409.6" x2="189.9" y2="409.6" stroke="#1a1a1a" stroke-width="1.5" />
<line x1="210.74" y1="414.52" x2="297.16" y2="457.68" stroke="#1a1a1a" stroke-width="1.5" />
<line x1="307" y1="437.5" x2="307" y2="489.8" stroke="#1a1a1a" stroke-width="1.3" />
<line x1="304.4" y1="437.5" x2="309.6" y2="437.5" stroke="#1a1a1a" stroke-width="1.3" />
<line x1="304.4" y1="489.8" x2="309.6" y2="489.8" stroke="#1a1a1a" stroke-width="1.3" />
<circle cx="95" cy="409.6" r="7.15" fill="#1a1a1a" stroke="#1a1a1a" stroke-width="1.3"/>
<circle cx="200.9" cy="409.6" r="7.15" fill="#1a1a1a" stroke="#1a1a1a" stroke-width="1.3"/>
<circle cx="307" cy="462.6" r="7.15" fill="#1a1a1a" stroke="#1a1a1a" stroke-width="1.3"/>
<line x1="105.98" y1="410.28" x2="189.92" y2="414.72" stroke="#1a1a1a" stroke-width="1.5" />
<line x1="210.91" y1="419.87" x2="296.99" y2="459.13" stroke="#1a1a1a" stroke-width="1.5" />
<line x1="307" y1="447.3" x2="307" y2="480.1" stroke="#1a1a1a" stroke-width="1.3" />
<line x1="304.4" y1="447.3" x2="309.6" y2="447.3" stroke="#1a1a1a" stroke-width="1.3" />
<line x1="304.4" y1="480.1" x2="309.6" y2="480.1" stroke="#1a1a1a" stroke-width="1.3" />
<path d="M86.7 405.3H103.3L95 418.6Z" fill="#1a1a1a" stroke="#1a1a1a" stroke-width="1.3" stroke-linejoin="miter"/>
<path d="M192.6 410.9H209.2L200.9 424.2Z" fill="#1a1a1a" stroke="#1a1a1a" stroke-width="1.3" stroke-linejoin="miter"/>
<path d="M298.7 459.3H315.3L307 472.6Z" fill="#1a1a1a" stroke="#1a1a1a" stroke-width="1.3" stroke-linejoin="miter"/>
<text x="104.5" y="580.9" font-size="15" text-anchor="middle" >F</text>
<text x="144.8" y="580.9" font-size="15" text-anchor="middle" >M</text>
<line x1="87.7" y1="594.8" x2="121.4" y2="594.8" stroke="#1a1a1a" stroke-width="1.5" />
<circle cx="104.5" cy="594.8" r="4.2" fill="#fff" stroke="#1a1a1a" stroke-width="1.3"/>
<line x1="125.9" y1="594.8" x2="160" y2="594.8" stroke="#1a1a1a" stroke-width="1.5" />
<path d="M137.8 592.43H147.8L142.8 600.53Z" fill="#fff" stroke="#1a1a1a" stroke-width="1.3" stroke-linejoin="miter"/>
<line x1="87.7" y1="613.2" x2="121.4" y2="613.2" stroke="#1a1a1a" stroke-width="1.5" />
<circle cx="104.5" cy="613.2" r="4.2" fill="#1a1a1a" stroke="#1a1a1a" stroke-width="1.3"/>
<line x1="125.9" y1="613.2" x2="160" y2="613.2" stroke="#1a1a1a" stroke-width="1.5" />
<path d="M137.8 610.83H147.8L142.8 618.93Z" fill="#1a1a1a" stroke="#1a1a1a" stroke-width="1.3" stroke-linejoin="miter"/>
<text x="165" y="600.2" font-size="15" text-anchor="start" >Binge</text>
<text x="165" y="618.4" font-size="15" text-anchor="start" >Binge/UCMS</text>
<text x="364" y="379.2" font-size="25" text-anchor="start" font-weight="bold" >D</text>
<line x1="429.8" y1="381.31" x2="429.8" y2="647.85" stroke="#1a1a1a" stroke-width="1.5" />
<line x1="425.5" y1="647.1" x2="429.8" y2="647.1" stroke="#1a1a1a" stroke-width="1.5" />
<text x="422.4" y="651.4" font-size="15.3" text-anchor="end" >0</text>
<line x1="425.5" y1="580.84" x2="429.8" y2="580.84" stroke="#1a1a1a" stroke-width="1.5" />
<text x="422.4" y="585.14" font-size="15.3" text-anchor="end" >2</text>
<line x1="425.5" y1="514.58" x2="429.8" y2="514.58" stroke="#1a1a1a" stroke-width="1.5" />
<text x="422.4" y="518.88" font-size="15.3" text-anchor="end" >4</text>
<line x1="425.5" y1="448.32" x2="429.8" y2="448.32" stroke="#1a1a1a" stroke-width="1.5" />
<text x="422.4" y="452.62" font-size="15.3" text-anchor="end" >6</text>
<line x1="425.5" y1="382.06" x2="429.8" y2="382.06" stroke="#1a1a1a" stroke-width="1.5" />
<text x="422.4" y="386.36" font-size="15.3" text-anchor="end" >8</text>
<line x1="427.1" y1="613.97" x2="429.8" y2="613.97" stroke="#1a1a1a" stroke-width="1.5" />
<line x1="427.1" y1="547.71" x2="429.8" y2="547.71" stroke="#1a1a1a" stroke-width="1.5" />
<line x1="427.1" y1="481.45" x2="429.8" y2="481.45" stroke="#1a1a1a" stroke-width="1.5" />
<line x1="427.1" y1="415.19" x2="429.8" y2="415.19" stroke="#1a1a1a" stroke-width="1.5" />
<line x1="429.8" y1="647.1" x2="695" y2="647.1" stroke="#1a1a1a" stroke-width="1.5" />
<text transform="translate(395.6 514.9) rotate(-90)" font-size="20.3" text-anchor="middle">Righting Score</text>
<line x1="469.6" y1="539.6" x2="469.6" y2="557.5" stroke="#1a1a1a" stroke-width="1.3" />
<line x1="467" y1="539.6" x2="472.2" y2="539.6" stroke="#1a1a1a" stroke-width="1.3" />
<rect x="443.2" y="557.5" width="52.8" height="89.6" fill="#fff" stroke="#1a1a1a" stroke-width="1.3"/>
<line x1="522.9" y1="524.8" x2="522.9" y2="537.5" stroke="#1a1a1a" stroke-width="1.3" />
<line x1="520.3" y1="524.8" x2="525.5" y2="524.8" stroke="#1a1a1a" stroke-width="1.3" />
<rect x="496" y="537.5" width="53.7" height="109.6" fill="#1a1a1a" stroke="#1a1a1a" stroke-width="1.3"/>
<line x1="601.9" y1="534" x2="601.9" y2="550.2" stroke="#1a1a1a" stroke-width="1.3" />
<line x1="599.3" y1="534" x2="604.5" y2="534" stroke="#1a1a1a" stroke-width="1.3" />
<rect x="575.4" y="550.2" width="52.9" height="96.9" fill="#fff" stroke="#1a1a1a" stroke-width="1.3"/>
<line x1="655.3" y1="499.9" x2="655.3" y2="508.2" stroke="#1a1a1a" stroke-width="1.3" />
<line x1="652.7" y1="499.9" x2="657.9" y2="499.9" stroke="#1a1a1a" stroke-width="1.3" />
<rect x="628.3" y="508.2" width="53.4" height="138.9" fill="#1a1a1a" stroke="#1a1a1a" stroke-width="1.3"/>
<text x="496.3" y="664.3" font-size="15" text-anchor="middle" >Female</text>
<text x="628.4" y="664.3" font-size="15" text-anchor="middle" >Male</text>
<text x="436.6" y="385.7" font-size="14.35" text-anchor="start" font-weight="bold" >4 g/kg Ethanol</text>
<line x1="436.6" y1="387.8" x2="534.4" y2="387.8" stroke="#1a1a1a" stroke-width="1.2" />
<rect x="437.4" y="393.4" width="32.8" height="12" fill="#fff" stroke="#1a1a1a" stroke-width="1.2"/>
<rect x="437.4" y="411.8" width="32.8" height="12.4" fill="#1a1a1a" stroke="#1a1a1a" stroke-width="1.2"/>
<text x="475.3" y="404.6" font-size="15" text-anchor="start" >Binge</text>
<text x="475.3" y="422.6" font-size="15" text-anchor="start" >Binge/UCMS</text>
<line x1="566.7" y1="392.6" x2="566.7" y2="425.3" stroke="#1a1a1a" stroke-width="1.5" />
<text x="575.2" y="414.4" font-size="17" text-anchor="middle" fill="#3a3a3a" stroke="none">+</text>
<text x="-2" y="779.3" font-size="25" text-anchor="start" font-weight="bold" >E</text>
<line x1="75" y1="763.95" x2="75" y2="1030.45" stroke="#1a1a1a" stroke-width="1.5" />
<line x1="70.7" y1="1029.7" x2="75" y2="1029.7" stroke="#1a1a1a" stroke-width="1.5" />
<text x="67.6" y="1034" font-size="15.3" text-anchor="end" >0</text>
<line x1="70.7" y1="963.45" x2="75" y2="963.45" stroke="#1a1a1a" stroke-width="1.5" />
<text x="67.6" y="967.75" font-size="15.3" text-anchor="end" >5</text>
<line x1="70.7" y1="897.2" x2="75" y2="897.2" stroke="#1a1a1a" stroke-width="1.5" />
<text x="67.6" y="901.5" font-size="15.3" text-anchor="end" >10</text>
<line x1="70.7" y1="830.95" x2="75" y2="830.95" stroke="#1a1a1a" stroke-width="1.5" />
<text x="67.6" y="835.25" font-size="15.3" text-anchor="end" >15</text>
<line x1="70.7" y1="764.7" x2="75" y2="764.7" stroke="#1a1a1a" stroke-width="1.5" />
<text x="67.6" y="769" font-size="15.3" text-anchor="end" >20</text>
<line x1="72.3" y1="996.58" x2="75" y2="996.58" stroke="#1a1a1a" stroke-width="1.5" />
<line x1="72.3" y1="930.33" x2="75" y2="930.33" stroke="#1a1a1a" stroke-width="1.5" />
<line x1="72.3" y1="864.08" x2="75" y2="864.08" stroke="#1a1a1a" stroke-width="1.5" />
<line x1="72.3" y1="797.83" x2="75" y2="797.83" stroke="#1a1a1a" stroke-width="1.5" />
<line x1="74.25" y1="1029.7" x2="340.3" y2="1029.7" stroke="#1a1a1a" stroke-width="1.5" />
<line x1="141.7" y1="1029.7" x2="141.7" y2="1034.1" stroke="#1a1a1a" stroke-width="1.5" />
<line x1="274.2" y1="1029.7" x2="274.2" y2="1034.1" stroke="#1a1a1a" stroke-width="1.5" />
<line x1="75" y1="1029.7" x2="75" y2="1032.4" stroke="#1a1a1a" stroke-width="1.5" />
<line x1="207.7" y1="1029.7" x2="207.7" y2="1032.4" stroke="#1a1a1a" stroke-width="1.5" />
<line x1="340" y1="1029.7" x2="340" y2="1032.4" stroke="#1a1a1a" stroke-width="1.5" />
<text transform="translate(37.3 901) rotate(-90)" font-size="20.3" text-anchor="middle">Alcohol Intake (g/kg)</text>
<line x1="115.6" y1="793.8" x2="115.6" y2="804.9" stroke="#1a1a1a" stroke-width="1.3" />
<line x1="113" y1="793.8" x2="118.2" y2="793.8" stroke="#1a1a1a" stroke-width="1.3" />
<rect x="88.7" y="804.9" width="53.6" height="224.8" fill="#fff" stroke="#1a1a1a" stroke-width="1.3"/>
<line x1="168.4" y1="836.4" x2="168.4" y2="843.4" stroke="#1a1a1a" stroke-width="1.3" />
<line x1="165.8" y1="836.4" x2="171" y2="836.4" stroke="#1a1a1a" stroke-width="1.3" />
<rect x="142.3" y="843.4" width="52.3" height="186.3" fill="#1a1a1a" stroke="#1a1a1a" stroke-width="1.3"/>
<line x1="247.8" y1="887.1" x2="247.8" y2="909.8" stroke="#1a1a1a" stroke-width="1.3" />
<line x1="245.2" y1="887.1" x2="250.4" y2="887.1" stroke="#1a1a1a" stroke-width="1.3" />
<rect x="220.8" y="909.8" width="53.4" height="119.9" fill="#fff" stroke="#1a1a1a" stroke-width="1.3"/>
<line x1="300.7" y1="925.9" x2="300.7" y2="943" stroke="#1a1a1a" stroke-width="1.3" />
<line x1="298.1" y1="925.9" x2="303.3" y2="925.9" stroke="#1a1a1a" stroke-width="1.3" />
<rect x="274.2" y="943" width="53.4" height="86.7" fill="#1a1a1a" stroke="#1a1a1a" stroke-width="1.3"/>
<text x="141.8" y="1048.5" font-size="15" text-anchor="middle" >Female</text>
<text x="274.5" y="1048.5" font-size="15" text-anchor="middle" >Male</text>
<text x="115.8" y="784.62" font-size="20.5" text-anchor="middle" font-family="Liberation Serif, serif" stroke="#111" stroke-width="0.35">*</text>
<text x="170.2" y="827.42" font-size="20.5" text-anchor="middle" font-family="Liberation Serif, serif" stroke="#111" stroke-width="0.35">*</text>
<rect x="212.6" y="753" width="33.7" height="11.6" fill="#fff" stroke="#1a1a1a" stroke-width="1.2"/>
<rect x="212.6" y="771" width="33.7" height="12.3" fill="#1a1a1a" stroke="#1a1a1a" stroke-width="1.2"/>
<text x="250.6" y="763.6" font-size="15" text-anchor="start" >Binge</text>
<text x="250.6" y="782.1" font-size="15" text-anchor="start" >Binge/UCMS</text>
<line x1="343" y1="750" x2="343" y2="783.9" stroke="#1a1a1a" stroke-width="1.5" />
<text x="353.3" y="770.5" font-size="17" text-anchor="middle" fill="#3a3a3a" stroke="none">+</text>
</svg>
</body></html>
